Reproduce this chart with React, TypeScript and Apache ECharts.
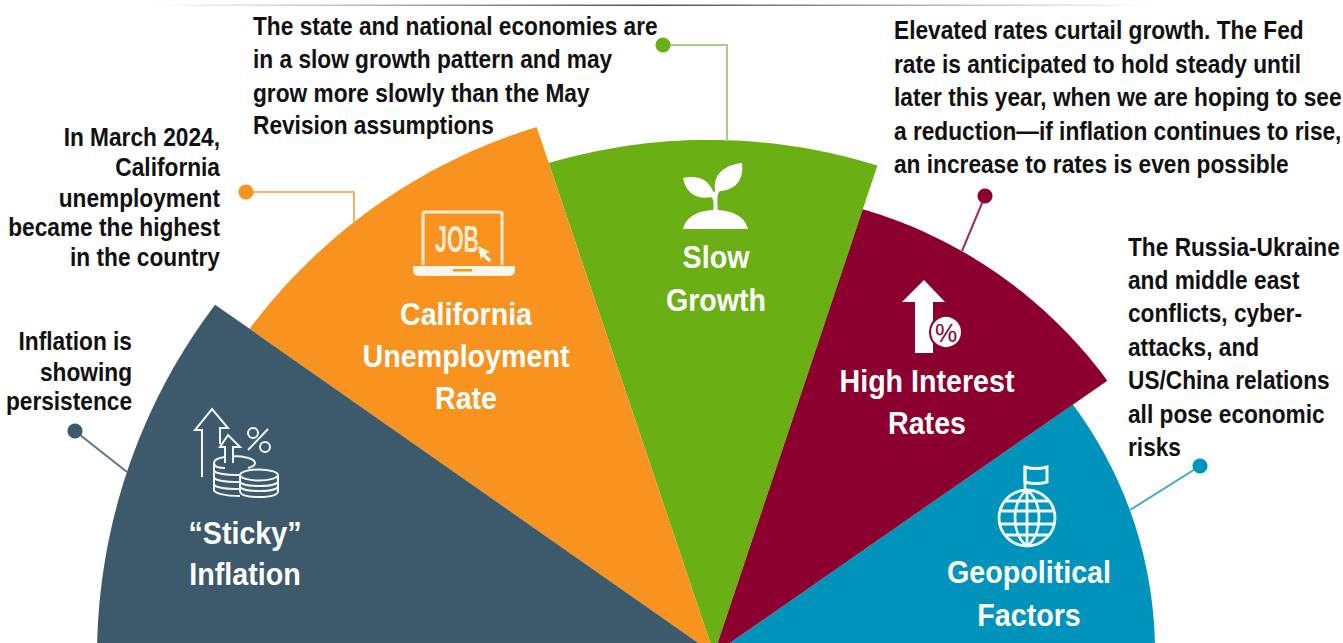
import React, { useEffect, useRef } from "react";
import * as echarts from "echarts";

// ---- data ----
const sliceNames = ["Slow Growth", "Geopolitical Factors", "California Unemployment Rate", "High Interest Rates", "Sticky Inflation"];
const sliceStartAngle = [71.5, 0, 108.6, 34.8, 145];
const sliceMidAngle = [88.6, 19.1, 129, 58.4, 162.8];
const sliceEndAngle = [108.6, 34.8, 145, 71.5, 180];
const sliceRadiusAtStart = [515, 441, 556, 479, 609];
const sliceMidRadius = [514, 440, 562, 473, 614.6];
const sliceRadiusAtEnd = [518, 437, 567, 469, 617];
const sliceColors = ["#6AAF14", "#0093BC", "#F7931E", "#8B002E", "#3D5A6C"];

const stickyLabel = ["\u201CSticky\u201D", "Inflation"];
const unemploymentLabel = ["California", "Unemployment", "Rate"];
const growthLabel = ["Slow", "Growth"];
const ratesLabel = ["High Interest", "Rates"];
const geoLabel = ["Geopolitical", "Factors"];

const inflationNote = ["Inflation is", "showing", "persistence"];
const unemploymentNote = ["In March 2024,", "California", "unemployment", "became the highest", "in the country"];
const growthNote = ["The state and national economies are", "in a slow growth pattern and may", "grow more slowly than the May", "Revision assumptions"];
const ratesNote = ["Elevated rates curtail growth. The Fed", "rate is anticipated to hold steady until", "later this year, when we are hoping to see", "a reduction\u2014if inflation continues to rise,", "an increase to rates is even possible"];
const geoNote = ["The Russia-Ukraine", "and middle east", "conflicts, cyber-", "attacks, and", "US/China relations", "all pose economic", "risks"];

// ---- icons ----
const COINS =
  "M202 477V430H195L212 409L228 428H220V444 M225 463V447H220L228 435L240 447H233V463 " +
  "M248 450L268 429 M258 433a5 5 0 1 1 -10 0a5 5 0 1 1 10 0 M270 447a5 5 0 1 1 -10 0a5 5 0 1 1 10 0 " +
  "M225 457C218 458 214 460 214 463C214 466 218 468 225 468 M233 456C245 456 255 459 255 463C255 465 252 467 248 468 " +
  "M214 463V490C214 493 224 496 240 496 M214 470C214 473 224 475 240 475 M214 477C214 480 224 482 240 482 M214 484C214 487 224 489 240 489 " +
  "M240 475a19 5.5 0 1 0 38 0a19 5.5 0 1 0 -38 0 M240 475V491C240 495 248 497 259 497C270 497 278 495 278 491V475 " +
  "M240 481C240 484 248 486 259 486C270 486 278 484 278 481 M240 486C240 489 248 491 259 491C270 491 278 489 278 486";
const LAPTOP_SCREEN = "M423 265V214Q423 212 425 212H500Q502 212 502 214V265";
const LAPTOP_BASE = "M413 266H515V270Q515 276 508 276H420Q413 276 413 270Z M453 269V271.5H472V269Z";
const CURSOR = "M477 245L491 252L486 254L492 260L489 263L483 257L481 261Z";
const PLANT =
  "M683 229C686 216 700 210 715 210C731 210 745 216 748 229Z " +
  "M713 212C714 204 714 199 711 197C698 200 686 194 683 178C695 175 707 178 712 189C714 193 715 193 715 190C713 176 723 165 742 163C744 178 737 190 720 191C717 193 717 200 718 212Z";
const RATE_ARROW = "M924 280L945 302H933V353H915V302H902Z";
const GLOBE =
  "M1055 518a28 28 0 1 1 -56 0a28 28 0 1 1 56 0 M1005 501H1049 M1000 511H1054 M1000 524H1054 M1005 535H1049 " +
  "M1027 490V546 M1027 490C1011 502 1011 534 1027 546 M1027 490C1043 502 1043 534 1027 546 " +
  "M1025 490V467";
const FLAG = "M1025 467C1032 469 1040 469 1047 467V482C1040 484 1032 484 1025 482Z";

echarts.graphic.registerShape("iconCoins", echarts.graphic.extendPath(COINS, {}) as any);
echarts.graphic.registerShape("iconScreen", echarts.graphic.extendPath(LAPTOP_SCREEN, {}) as any);
echarts.graphic.registerShape("iconBase", echarts.graphic.extendPath(LAPTOP_BASE, {}) as any);
echarts.graphic.registerShape("iconCursor", echarts.graphic.extendPath(CURSOR, {}) as any);
echarts.graphic.registerShape("iconPlant", echarts.graphic.extendPath(PLANT, {}) as any);
echarts.graphic.registerShape("iconRate", echarts.graphic.extendPath(RATE_ARROW, {}) as any);
echarts.graphic.registerShape("iconGlobe", echarts.graphic.extendPath(GLOBE, {}) as any);
echarts.graphic.registerShape("iconFlag", echarts.graphic.extendPath(FLAG, {}) as any);

const FONT = "'Liberation Sans', Arial, sans-serif";

function textLines(lines: string[], ys: number[], x: number, align: string, size: number, scaleX: number, fill: string) {
  return lines.map((text, i) => ({
    type: "text",
    z: 10,
    x,
    y: ys[i],
    scaleX,
    style: { text, fontSize: size, fontWeight: "bold", fontFamily: FONT, fill, align, verticalAlign: "middle" },
  }));
}

function leader(points: number[][], dot: number[], color: string, lineColor: string) {
  return [
    { type: "polyline", z: 5, shape: { points }, style: { stroke: lineColor, lineWidth: 2, fill: "none" } },
    { type: "circle", z: 6, shape: { cx: dot[0], cy: dot[1], r: 7.5 }, style: { fill: color } },
  ];
}

function icon(type: string, style: any) {
  return { type, z: 10, x: 0, y: 0, style };
}

function renderSlice(params: any, api: any) {
  const a0 = api.value(0), a1 = api.value(1), a2 = api.value(2);
  const r0 = api.value(3), r1 = api.value(4), r2 = api.value(5);
  const apex = api.coord([0, a0]);
  const points: number[][] = [apex];
  const STEPS = 48;
  for (let i = 0; i <= STEPS; i++) {
    const a = a0 + ((a2 - a0) * i) / STEPS;
    // arc through the three radii
    const r =
      (r0 * (a - a1) * (a - a2)) / ((a0 - a1) * (a0 - a2)) +
      (r1 * (a - a0) * (a - a2)) / ((a1 - a0) * (a1 - a2)) +
      (r2 * (a - a0) * (a - a1)) / ((a2 - a0) * (a2 - a1));
    points.push(api.coord([r, a]));
  }
  return {
    type: "polygon",
    shape: { points },
    style: { fill: sliceColors[params.dataIndex] },
  };
}

export default function App() {
  const ref = useRef<HTMLDivElement>(null);
  useEffect(() => {
    const chart = echarts.init(ref.current!, undefined, { renderer: "svg" });
    const graphic: any[] = [
      {
        type: "rect",
        z: 1,
        shape: { x: 148, y: 4.5, width: 1008, height: 1.6 },
        style: {
          fill: {
            type: "linear", x: 0, y: 0, x2: 1, y2: 0,
            colorStops: [
              { offset: 0, color: "rgba(90,90,90,0)" },
              { offset: 0.5, color: "rgba(80,80,80,1)" },
              { offset: 1, color: "rgba(90,90,90,0)" },
            ],
          },
        },
      },
      ...leader([[75, 431], [127, 472]], [75, 431], "#3D5A6C", "#5F7785"),
      ...leader([[246, 192], [354, 192], [354, 223]], [246, 192], "#F7931E", "#F9B25F"),
      ...leader([[663, 45], [727, 45], [727, 141]], [663, 45], "#6AAF14", "#A3CF86"),
      ...leader([[985, 196], [962, 251]], [985, 196], "#8B002E", "#9E3055"),
      ...leader([[1200, 466], [1130, 510]], [1200, 466], "#0093BC", "#3FA9CC"),

      ...textLines(inflationNote, [341, 372, 401], 132, "right", 26, 0.873, "#111"),
      ...textLines(unemploymentNote, [137, 167, 198, 227, 257], 220, "right", 26, 0.873, "#111"),
      ...textLines(growthNote, [26, 59, 93, 125], 253, "left", 26, 0.873, "#111"),
      ...textLines(ratesNote, [30, 64, 97, 131, 164], 894, "left", 26, 0.873, "#111"),
      ...textLines(geoNote, [247, 280, 313, 347, 380, 414, 447], 1128, "left", 26, 0.873, "#111"),

      ...textLines(stickyLabel, [533, 574], 245, "center", 32, 0.895, "#fff"),
      ...textLines(unemploymentLabel, [314, 356, 398], 466, "center", 32, 0.895, "#fff"),
      ...textLines(growthLabel, [257, 300], 716, "center", 32, 0.895, "#fff"),
      ...textLines(ratesLabel, [381, 423], 927, "center", 32, 0.895, "#fff"),
      ...textLines(geoLabel, [572, 615], 1029, "center", 32, 0.895, "#fff"),

      icon("iconCoins", { fill: "none", stroke: "#F2F5F6", lineWidth: 2 }),
      icon("iconScreen", { fill: "none", stroke: "#FDEBD3", lineWidth: 3 }),
      icon("iconBase", { fill: "#FFF6EA" }),
      ...textLines(["JOB"], [239], 457, "center", 37, 0.58, "#FDEBD3"),
      icon("iconCursor", { fill: "#FFF6EA", stroke: "#F7931E", lineWidth: 1 }),
      icon("iconPlant", { fill: "#fff" }),
      icon("iconRate", { fill: "#fff" }),
      { type: "circle", z: 10, shape: { cx: 946, cy: 332, r: 16 }, style: { fill: "#fff", stroke: "#8B002E", lineWidth: 2 } },
      { type: "text", z: 11, x: 946, y: 333, style: { text: "%", fontSize: 25, fontWeight: "normal", fontFamily: FONT, fill: "#8B002E", align: "center", verticalAlign: "middle" } },
      icon("iconGlobe", { fill: "none", stroke: "#EFF8FB", lineWidth: 2.8 }),
      icon("iconFlag", { fill: "none", stroke: "#EFF8FB", lineWidth: 3 }),
    ];
    chart.setOption({
      animation: false,
      backgroundColor: "#fff",
      polar: { center: [714, 654], radius: 640 },
      radiusAxis: { min: 0, max: 640, show: false },
      angleAxis: { min: 0, max: 360, startAngle: 0, clockwise: false, show: false },
      series: [
        {
          type: "custom",
          coordinateSystem: "polar",
          silent: true,
          clip: false,
          renderItem: renderSlice,
          data: sliceNames.map((name, i) => ({
            name,
            value: [sliceStartAngle[i], sliceMidAngle[i], sliceEndAngle[i], sliceRadiusAtStart[i], sliceMidRadius[i], sliceRadiusAtEnd[i]],
          })),
        },
      ],
      graphic,
    });
    return () => chart.dispose();
  }, []);
  return <div ref={ref} style={{ position: "fixed", left: 0, top: 0, width: 1343, height: 643, overflow: "hidden" }} />;
}
